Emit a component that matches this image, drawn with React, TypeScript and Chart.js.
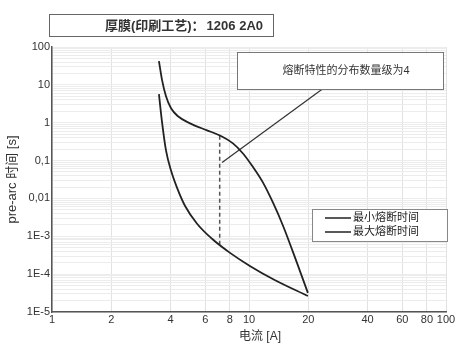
import React, { useEffect, useRef } from "react";
import { Chart, registerables } from "chart.js";

Chart.register(...registerables);

const FONT = "'Liberation Sans', 'Noto Sans CJK SC', sans-serif";

const TITLE_CN = "厚膜(印刷工艺)：";
const TITLE_CODE = "1206 2A0";
const NOTE_TEXT = "熔断特性的分布数量级为4";
const LEGEND_LABELS = ["最小熔断时间", "最大熔断时间"];
const X_TITLE = "电流 [A]";
const Y_TITLE = "pre-arc 时间 [s]";

const X_TICKS = [1, 2, 4, 6, 8, 10, 20, 40, 60, 80, 100];
const Y_DECADES = [100, 10, 1, 0.1, 0.01, 1e-3, 1e-4, 1e-5];
const Y_LABELS = ["100", "10", "1", "0,1", "0,01", "1E-3", "1E-4", "1E-5"];

// 最大熔断时间 (upper curve)
const MAX_X = [3.49, 3.62, 3.79, 4.02, 4.36, 5.02, 6.12, 7.12, 8.29, 9.32, 10.35, 11.78, 13.24, 14.88, 17.52, 19.9];
const MAX_Y = [42.5, 13.3, 5.0, 2.41, 1.48, 0.96, 0.63, 0.46, 0.284, 0.154, 0.074, 0.0262, 7.7e-3, 1.9e-3, 1.98e-4, 3.2e-5];

// 最小熔断时间 (lower curve)
const MIN_X = [3.49, 3.62, 3.79, 4.02, 4.31, 4.73, 5.45, 6.49, 8.01, 10.1, 13.5, 19.9];
const MIN_Y = [5.66, 1.02, 0.185, 0.0546, 0.0193, 6.4e-3, 2.15e-3, 8.6e-4, 3.65e-4, 1.65e-4, 7.0e-5, 2.64e-5];

// dashed spread marker
const DASH_X = [7.1, 7.1];
const DASH_Y = [0.45, 5.3e-4];

// pointer from spread marker to note box
const POINTER_X = [7.3, 23.5];
const POINTER_Y = [0.089, 7.7];

const pts = (xs: number[], ys: number[]) => xs.map((x, i) => ({ x, y: ys[i] }));

const decorPlugin = {
  id: "decor",
  afterDatasetsDraw(chart: any) {
    const ctx = chart.ctx as CanvasRenderingContext2D;
    ctx.save();
    // note box
    ctx.fillStyle = "#fff";
    ctx.fillRect(237, 52, 206, 37);
    ctx.strokeStyle = "#777";
    ctx.lineWidth = 1;
    ctx.strokeRect(237.5, 52.5, 206, 37);
    ctx.fillStyle = "#333";
    ctx.font = `11px ${FONT}`;
    ctx.textAlign = "center";
    ctx.textBaseline = "middle";
    ctx.fillText(NOTE_TEXT, 346, 71);

    // legend box
    ctx.fillStyle = "#fff";
    ctx.fillRect(312, 209, 135, 32);
    ctx.strokeStyle = "#888";
    ctx.strokeRect(312.5, 209.5, 135, 32);
    ctx.strokeStyle = "#222";
    ctx.lineWidth = 1.5;
    const ly = [218, 232];
    ly.forEach((y, i) => {
      ctx.beginPath();
      ctx.moveTo(325, y);
      ctx.lineTo(351, y);
      ctx.stroke();
      ctx.fillStyle = "#222";
      ctx.font = `11px ${FONT}`;
      ctx.textAlign = "left";
      ctx.textBaseline = "middle";
      ctx.fillText(LEGEND_LABELS[i], 353, y);
    });

    // title box
    ctx.fillStyle = "#fff";
    ctx.fillRect(49, 14, 224, 22);
    ctx.strokeStyle = "#666";
    ctx.lineWidth = 1;
    ctx.strokeRect(49.5, 14.5, 224, 22);
    ctx.fillStyle = "#333";
    ctx.textBaseline = "middle";
    ctx.textAlign = "right";
    ctx.font = `bold 13px ${FONT}`;
    ctx.fillText(TITLE_CODE, 263, 26);
    const w = ctx.measureText(TITLE_CODE).width;
    ctx.font = `bold 13px ${FONT}`;
    ctx.fillText(TITLE_CN, 263 - w - 2, 26);

    // x title
    ctx.fillStyle = "#333";
    ctx.font = `12px ${FONT}`;
    ctx.textAlign = "center";
    ctx.fillText(X_TITLE, 260, 337);
    ctx.restore();
  },
};

function yTickValues(): number[] {
  const out: number[] = [];
  for (let e = -5; e <= 1; e++) {
    for (let m = 1; m <= 9; m++) out.push(Number((m * Math.pow(10, e)).toPrecision(3)));
  }
  out.push(100);
  return out;
}

export default function App() {
  const ref = useRef<HTMLCanvasElement>(null);
  useEffect(() => {
    if (!ref.current) return;
    const chart = new Chart(ref.current, {
      type: "scatter",
      data: {
        datasets: [
          {
            label: LEGEND_LABELS[1],
            data: pts(MAX_X, MAX_Y),
            showLine: true,
            borderColor: "#222",
            borderWidth: 1.8,
            pointRadius: 0,
            cubicInterpolationMode: "monotone",
          },
          {
            label: LEGEND_LABELS[0],
            data: pts(MIN_X, MIN_Y),
            showLine: true,
            borderColor: "#222",
            borderWidth: 1.8,
            pointRadius: 0,
            cubicInterpolationMode: "monotone",
          },
          {
            label: "spread",
            data: pts(DASH_X, DASH_Y),
            showLine: true,
            borderColor: "#555",
            borderWidth: 1.5,
            borderDash: [4, 3],
            pointRadius: 0,
          },
          {
            label: "pointer",
            data: pts(POINTER_X, POINTER_Y),
            showLine: true,
            borderColor: "#333",
            borderWidth: 1.2,
            pointRadius: 0,
          },
        ],
      },
      options: {
        responsive: false,
        animation: false,
        devicePixelRatio: 1,
        layout: { padding: { top: 47, right: 22, left: 0, bottom: 0 } },
        plugins: {
          legend: { display: false },
          tooltip: { enabled: false },
          title: { display: false },
        },
        scales: {
          x: {
            type: "logarithmic",
            min: 1,
            max: 100,
            afterFit: (s: any) => {
              s.height = 44;
            },
            afterBuildTicks: (s: any) => {
              s.ticks = X_TICKS.map((v) => ({ value: v }));
            },
            ticks: {
              autoSkip: false,
              maxRotation: 0,
              padding: 1,
              color: "#333",
              font: { size: 11, family: FONT },
              callback: (v: any) => String(v),
            },
            grid: { color: "#e2e2e2", lineWidth: 1, drawTicks: false },
            border: { display: true, color: "#555", width: 1.5 },
          },
          y: {
            type: "logarithmic",
            min: 1e-5,
            max: 100,
            afterFit: (s: any) => {
              s.width = 52;
            },
            afterBuildTicks: (s: any) => {
              s.ticks = yTickValues().map((v) => ({ value: v }));
            },
            ticks: {
              autoSkip: false,
              padding: 2,
              color: "#333",
              font: { size: 11, family: FONT },
              callback: (v: any) => {
                const i = Y_DECADES.findIndex((d) => Math.abs(Math.log10(d) - Math.log10(v)) < 1e-6);
                return i >= 0 ? Y_LABELS[i] : "";
              },
            },
            grid: { color: "#ececec", lineWidth: 1, drawTicks: false },
            border: { display: true, color: "#555", width: 1.5 },
            title: {
              display: true,
              text: Y_TITLE,
              color: "#333",
              font: { size: 13, family: FONT },
              padding: { top: 5, bottom: 0 },
            },
          },
        },
      },
      plugins: [decorPlugin],
    } as any);
    return () => chart.destroy();
  }, []);
  return (
    <div style={{ position: "absolute", left: 0, top: 0, width: 468, height: 356, background: "#fff" }}>
      <canvas ref={ref} width={468} height={356} />
    </div>
  );
}
